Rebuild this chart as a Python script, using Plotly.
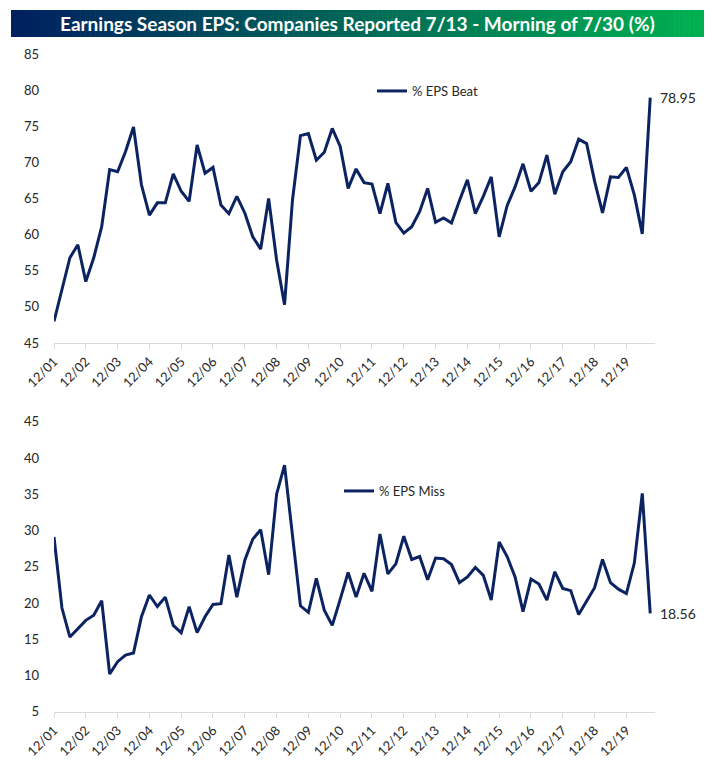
import plotly.graph_objects as go

# ---------------- data ----------------
tick_labels = ["12/%02d" % y for y in range(1, 20)]
tick_positions = [4 * i for i in range(len(tick_labels))]

eps_beat = [48.0, 52.4, 56.8, 58.6, 53.5, 56.8, 61.1, 69.0, 68.7, 71.5,
            74.9, 66.9, 62.7, 64.4, 64.4, 68.4, 66.0, 64.6, 72.4, 68.5,
            69.3, 64.1, 62.9, 65.3, 63.0, 59.7, 58.0, 65.0, 56.5, 50.3,
            64.8, 73.7, 74.0, 70.3, 71.4, 74.7, 72.2, 66.4, 69.1, 67.2,
            67.0, 62.9, 67.1, 61.7, 60.2, 61.1, 63.2, 66.4, 61.7, 62.3,
            61.6, 64.7, 67.6, 62.9, 65.3, 68.0, 59.7, 64.0, 66.6, 69.8,
            66.0, 67.2, 71.0, 65.6, 68.7, 70.1, 73.2, 72.6, 67.4, 63.0,
            68.0, 67.9, 69.3, 65.5, 60.1, 78.95]

eps_miss = [29.1, 19.3, 15.3, 16.5, 17.6, 18.3, 20.3, 10.2, 11.9, 12.8,
            13.1, 18.1, 21.1, 19.5, 20.8, 16.9, 15.9, 19.5, 15.9, 18.1,
            19.8, 19.9, 26.6, 20.8, 25.9, 28.8, 30.1, 23.9, 35.0, 39.0,
            29.0, 19.6, 18.7, 23.4, 19.0, 16.9, 20.5, 24.2, 20.8, 24.1,
            21.6, 29.5, 24.0, 25.4, 29.2, 26.0, 26.4, 23.2, 26.2, 26.1,
            25.3, 22.8, 23.6, 24.9, 23.8, 20.4, 28.4, 26.4, 23.6, 18.8,
            23.3, 22.6, 20.4, 24.3, 22.0, 21.7, 18.4, 20.3, 22.1, 26.0,
            22.8, 21.9, 21.3, 25.5, 35.1, 18.56]

x_idx = list(range(len(eps_beat)))

title_text = "Earnings Season EPS: Companies Reported 7/13 - Morning of 7/30 (%)"

# ---------------- figure ----------------
W, H = 712, 774
LINE = "#0b2461"
FONT = "Lato, 'Open Sans', sans-serif"
TXT = "#262626"

def px_x(p):
    return p / W

def px_y(p):
    return 1 - p / H

fig = go.Figure()
fig.add_trace(go.Scatter(x=x_idx, y=eps_beat, mode="lines", name="% EPS Beat",
                         line=dict(color=LINE, width=3), xaxis="x", yaxis="y",
                         legend="legend"))
fig.add_trace(go.Scatter(x=x_idx, y=eps_miss, mode="lines", name="% EPS Miss",
                         line=dict(color=LINE, width=3), xaxis="x2", yaxis="y2",
                         legend="legend2"))

xcommon = dict(range=[0, 75.6], tickmode="array", tickvals=tick_positions,
               ticktext=tick_labels, tickangle=-45, showgrid=False,
               zeroline=False, showline=True, linecolor="#d9d9d9", linewidth=1,
               ticks="outside", ticklen=5, tickcolor="#d9d9d9",
               tickfont=dict(family=FONT, size=13, color=TXT), automargin=False,
               domain=[px_x(54), px_x(655)])
ycommon = dict(showgrid=False, zeroline=False, showline=False, ticks="",
               tickfont=dict(family=FONT, size=13, color=TXT), automargin=False,
               dtick=5, ticklabelstandoff=14)

fig.update_layout(
    width=W, height=H,
    margin=dict(l=0, r=0, t=0, b=0),
    paper_bgcolor="white", plot_bgcolor="white",
    xaxis=dict(**xcommon, anchor="y"),
    xaxis2=dict(**xcommon, anchor="y2"),
    yaxis=dict(**ycommon, range=[45, 85], tick0=45, anchor="x",
               domain=[px_y(343), px_y(54)]),
    yaxis2=dict(**ycommon, range=[5, 45], tick0=5, anchor="x2",
                domain=[px_y(711.7), px_y(421.7)]),
    showlegend=True,
    legend=dict(x=px_x(372), y=px_y(76), xanchor="left", yanchor="top",
                bgcolor="rgba(0,0,0,0)", font=dict(family=FONT, size=13, color=TXT)),
    legend2=dict(x=px_x(339), y=px_y(476), xanchor="left", yanchor="top",
                 bgcolor="rgba(0,0,0,0)", font=dict(family=FONT, size=13, color=TXT)),
)

# gradient title banner
x0p, x1p, y0p, y1p = 11, 704, 10, 37
c0 = (0x00, 0x20, 0x60)
c1 = (0x00, 0xB0, 0x50)
n = 140
shapes = []
for i in range(n):
    t = i / (n - 1)
    c = tuple(round(c0[k] + (c1[k] - c0[k]) * t) for k in range(3))
    xa = x0p + (x1p - x0p) * i / n
    xb = x0p + (x1p - x0p) * (i + 1) / n + 0.6
    shapes.append(dict(type="rect", xref="paper", yref="paper",
                       x0=px_x(xa), x1=px_x(min(xb, x1p)),
                       y0=px_y(y1p), y1=px_y(y0p),
                       fillcolor="rgb(%d,%d,%d)" % c, line=dict(width=0),
                       layer="below"))
fig.update_layout(shapes=shapes)

fig.add_annotation(xref="paper", yref="paper", x=px_x((x0p + x1p) / 2),
                   y=px_y((y0p + y1p) / 2), text="<b>%s</b>" % title_text,
                   showarrow=False, xanchor="center", yanchor="middle",
                   font=dict(family=FONT, size=19, color="white"))

fig.add_annotation(xref="x", yref="y", x=x_idx[-1], y=eps_beat[-1],
                   text="%.2f" % eps_beat[-1], showarrow=False,
                   xanchor="left", yanchor="middle", xshift=8,
                   font=dict(family=FONT, size=14, color=TXT))
fig.add_annotation(xref="x2", yref="y2", x=x_idx[-1], y=eps_miss[-1],
                   text="%.2f" % eps_miss[-1], showarrow=False,
                   xanchor="left", yanchor="middle", xshift=8,
                   font=dict(family=FONT, size=14, color=TXT))

fig.write_html("out.html")
